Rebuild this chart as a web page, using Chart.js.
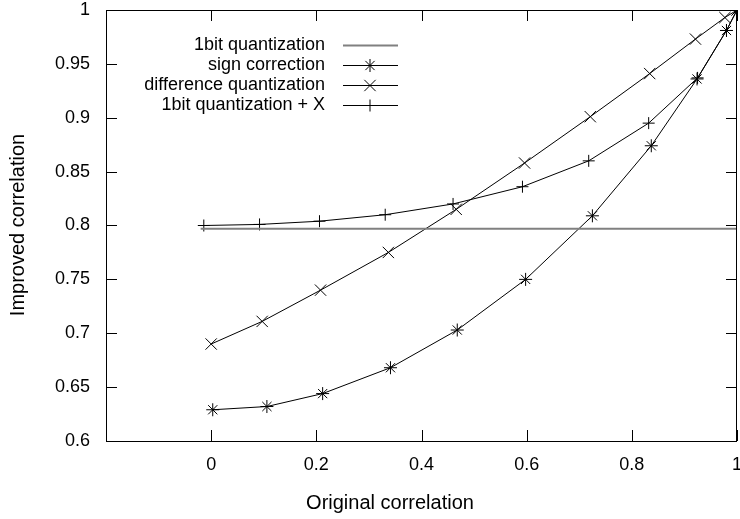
<!DOCTYPE html>
<html>
<head>
<meta charset="utf-8">
<script src="https://cdn.jsdelivr.net/npm/chart.js@4.4.1/dist/chart.umd.min.js"></script>
<style>
  html, body { margin: 0; padding: 0; background: #fff; }
  #wrap { width: 740px; height: 519px; }
</style>
</head>
<body>
<div id="wrap"><canvas id="c" width="740" height="519"></canvas></div>
<script>
// ---- data ----
const seriesLabels = ['1bit quantization', 'sign correction', 'difference quantization', '1bit quantization + X'];

const oneBitX = [-0.02, 1.0];
const oneBitY = [0.797, 0.797];

const signX = [0.003, 0.106, 0.212, 0.341, 0.468, 0.598, 0.725, 0.837, 0.924, 0.980, 1.0];
const signY = [0.629, 0.632, 0.644, 0.668, 0.703, 0.750, 0.809, 0.874, 0.936, 0.981, 1.0];

const diffX = [0.000, 0.097, 0.208, 0.337, 0.466, 0.596, 0.721, 0.834, 0.921, 0.977, 1.0];
const diffY = [0.690, 0.711, 0.740, 0.775, 0.815, 0.858, 0.901, 0.941, 0.973, 0.993, 1.0];

const plusX = [-0.014, 0.092, 0.206, 0.331, 0.460, 0.592, 0.718, 0.832, 0.925, 0.980, 1.0];
const plusY = [0.800, 0.801, 0.804, 0.810, 0.820, 0.836, 0.860, 0.895, 0.937, 0.981, 1.0];

const xTickValues = [0, 0.2, 0.4, 0.6, 0.8, 1];
const yTickValues = [0.6, 0.65, 0.7, 0.75, 0.8, 0.85, 0.9, 0.95, 1];
const xTickLabels = ['0', '0.2', '0.4', '0.6', '0.8', '1'];
const yTickLabels = ['0.6', '0.65', '0.7', '0.75', '0.8', '0.85', '0.9', '0.95', '1'];

const xTitle = 'Original correlation';
const yTitle = 'Improved correlation';

// ---- helpers ----
const zip = (xs, ys) => xs.map((x, i) => ({ x: x, y: ys[i] }));
const FONT = '"Liberation Sans", Arial, Helvetica, sans-serif';

const markerStyles = [
  { pointStyle: false, radius: 0 },
  { pointStyle: 'star', radius: 6.5 },
  { pointStyle: 'crossRot', radius: 8 },
  { pointStyle: 'cross', radius: 6 }
];
const lineColors = ['#808080', '#000000', '#000000', '#000000'];
const lineWidths = [2, 1, 1, 1];

function makeDataset(i, data) {
  return {
    label: seriesLabels[i],
    data: data,
    showLine: true,
    borderColor: lineColors[i],
    backgroundColor: lineColors[i],
    borderWidth: lineWidths[i],
    pointStyle: markerStyles[i].pointStyle,
    pointRadius: markerStyles[i].radius,
    pointHoverRadius: markerStyles[i].radius,
    pointBorderWidth: 1,
    pointBorderColor: '#000',
    tension: 0
  };
}

const framePlugin = {
  id: 'frame',
  afterDatasetsDraw(chart) {
    const ctx = chart.ctx;
    const a = chart.chartArea;
    const xs = chart.scales.x, ys = chart.scales.y;
    const tl = 11;
    ctx.save();
    ctx.strokeStyle = '#000';
    ctx.lineWidth = 1;
    ctx.beginPath();
    xTickValues.forEach(v => {
      const px = Math.round(xs.getPixelForValue(v)) + 0.5;
      ctx.moveTo(px, a.bottom); ctx.lineTo(px, a.bottom - tl);
      ctx.moveTo(px, a.top); ctx.lineTo(px, a.top + tl);
    });
    yTickValues.forEach(v => {
      const py = Math.round(ys.getPixelForValue(v)) + 0.5;
      ctx.moveTo(a.left, py); ctx.lineTo(a.left + tl, py);
      ctx.moveTo(a.right, py); ctx.lineTo(a.right - tl, py);
    });
    ctx.stroke();
    ctx.strokeRect(Math.round(a.left) + 0.5, Math.round(a.top) + 0.5,
                   Math.round(a.right - a.left) - 1, Math.round(a.bottom - a.top));
    ctx.restore();
  },
  afterDraw(chart) {
    const ctx = chart.ctx;
    ctx.save();
    // axis titles
    ctx.fillStyle = '#000';
    ctx.font = '20px ' + FONT;
    ctx.textAlign = 'center';
    ctx.textBaseline = 'middle';
    ctx.fillText(xTitle, 390, 503);
    ctx.save();
    ctx.translate(18, 225);
    ctx.rotate(-Math.PI / 2);
    ctx.fillText(yTitle, 0, 0);
    ctx.restore();

    // legend
    const rowsY = [45, 65, 85, 105];
    const textRight = 325, lineL = 343, lineR = 398, midX = 370;
    ctx.font = '18px ' + FONT;
    ctx.textAlign = 'right';
    chart.data.datasets.forEach((ds, i) => {
      const y = rowsY[i];
      ctx.fillStyle = '#000';
      ctx.fillText(ds.label, textRight, y);
      ctx.strokeStyle = ds.borderColor;
      ctx.lineWidth = ds.borderWidth;
      ctx.beginPath();
      ctx.moveTo(lineL, Math.round(y) + 0.5);
      ctx.lineTo(lineR, Math.round(y) + 0.5);
      ctx.stroke();
      if (ds.pointStyle && Chart.helpers && Chart.helpers.drawPoint) {
        ctx.strokeStyle = '#000';
        ctx.fillStyle = '#000';
        ctx.lineWidth = 1;
        Chart.helpers.drawPoint(ctx, {
          pointStyle: ds.pointStyle, radius: ds.pointRadius, rotation: 0, borderWidth: 1
        }, midX, Math.round(y) + 0.5);
      }
    });
    ctx.restore();
  }
};

new Chart(document.getElementById('c'), {
  type: 'scatter',
  data: {
    datasets: [
      makeDataset(0, zip(oneBitX, oneBitY)),
      makeDataset(1, zip(signX, signY)),
      makeDataset(2, zip(diffX, diffY)),
      makeDataset(3, zip(plusX, plusY))
    ]
  },
  options: {
    responsive: false,
    animation: false,
    devicePixelRatio: 1,
    layout: { autoPadding: false, padding: { top: 10, right: 3, left: 0, bottom: 0 } },
    plugins: {
      legend: { display: false },
      tooltip: { enabled: false },
      title: { display: false }
    },
    scales: {
      x: {
        type: 'linear',
        min: -0.2,
        max: 1,
        grid: { display: false, drawTicks: false },
        border: { display: false },
        afterBuildTicks: s => { s.ticks = xTickValues.map(v => ({ value: v })); },
        afterFit: s => { s.height = 78; s.paddingLeft = 0; s.paddingRight = 0; },
        ticks: {
          color: '#000',
          padding: 13,
          maxRotation: 0,
          autoSkip: false,
          font: { family: FONT, size: 18 },
          callback: (v) => { const i = xTickValues.indexOf(v); return i >= 0 ? xTickLabels[i] : ''; }
        }
      },
      y: {
        type: 'linear',
        min: 0.6,
        max: 1,
        grid: { display: false, drawTicks: false },
        border: { display: false },
        afterBuildTicks: s => { s.ticks = yTickValues.map(v => ({ value: v })); },
        afterFit: s => { s.width = 106; s.paddingTop = 0; s.paddingBottom = 0; },
        ticks: {
          color: '#000',
          padding: 16,
          autoSkip: false,
          font: { family: FONT, size: 18 },
          callback: (v) => { const i = yTickValues.indexOf(v); return i >= 0 ? yTickLabels[i] : ''; }
        }
      }
    }
  },
  plugins: [framePlugin]
});
</script>
</body>
</html>
